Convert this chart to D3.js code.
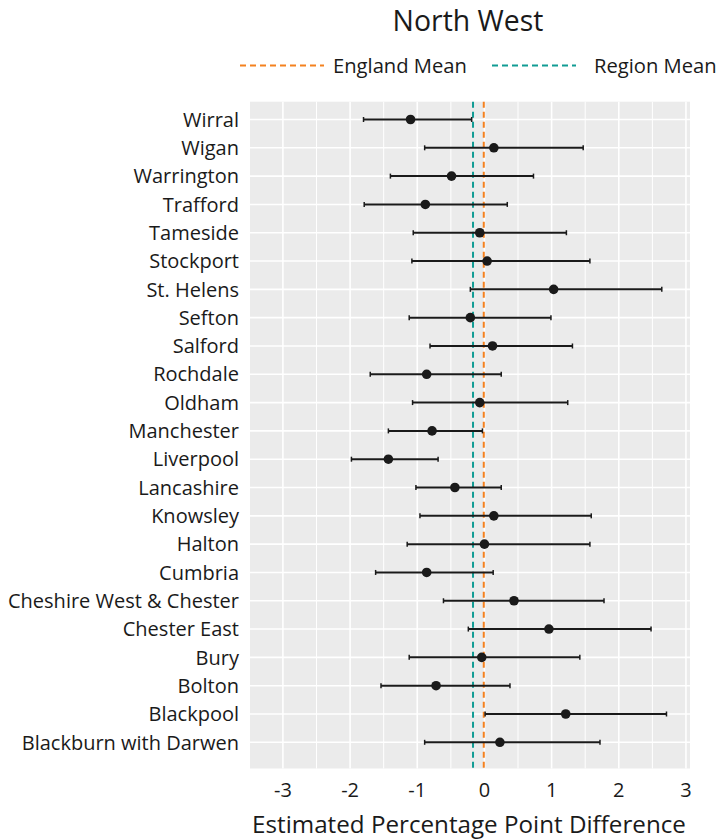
<!DOCTYPE html>
<html>
<head>
<meta charset="utf-8">
<script src="https://cdn.jsdelivr.net/npm/d3@7"></script>
<style>
  body { margin: 0; background: #fff; }
  text { font-family: "Open Sans", sans-serif; fill: #1a1a1a; }
</style>
</head>
<body>
<svg id="chart"></svg>
<script>
// local authorities, top to bottom
let areas = ['Wirral', 'Wigan', 'Warrington', 'Trafford', 'Tameside', 'Stockport',
  'St. Helens', 'Sefton', 'Salford', 'Rochdale', 'Oldham', 'Manchester', 'Liverpool',
  'Lancashire', 'Knowsley', 'Halton', 'Cumbria', 'Cheshire West & Chester',
  'Chester East', 'Bury', 'Bolton', 'Blackpool', 'Blackburn with Darwen']

let estimate = [-1.10, 0.14, -0.49, -0.88, -0.07, 0.04, 1.03, -0.21, 0.12, -0.86, -0.07,
  -0.78, -1.43, -0.44, 0.14, 0.00, -0.86, 0.44, 0.96, -0.04, -0.72, 1.21, 0.23]
let lower = [-1.80, -0.89, -1.40, -1.79, -1.06, -1.08, -0.21, -1.12, -0.81, -1.70, -1.07,
  -1.43, -1.98, -1.02, -0.96, -1.15, -1.62, -0.61, -0.24, -1.12, -1.54, 0.01, -0.89]
let upper = [-0.19, 1.47, 0.73, 0.34, 1.22, 1.57, 2.64, 0.99, 1.31, 0.25, 1.24,
  -0.03, -0.69, 0.25, 1.59, 1.57, 0.13, 1.78, 2.48, 1.42, 0.38, 2.71, 1.72]

let meanNames = ['England Mean', 'Region Mean']
let meanValues = [-0.01, -0.17]
let meanColors = ['#f4811f', '#119c94']

let xTicks = [-3, -2, -1, 0, 1, 2, 3]
let xMinor = [-2.5, -1.5, -0.5, 0.5, 1.5, 2.5]

let width = 716, height = 840
let panel = { left: 250, right: 690, top: 101.7, bottom: 768.5 }

const svg = d3.select('#chart')
    .attr('width', width)
    .attr('height', height)

let x = d3.scaleLinear().domain([-3.49, 3.06]).range([panel.left, panel.right])
let y = d3.scalePoint().domain(areas).range([119.5, 742.3])

// panel background
svg.append('rect')
    .attr('x', panel.left).attr('y', panel.top)
    .attr('width', panel.right - panel.left)
    .attr('height', panel.bottom - panel.top)
    .attr('fill', '#ebebeb')

let grid = svg.append('g')
grid.selectAll('.minor').data(xMinor).join('line')
    .attr('x1', d => x(d)).attr('x2', d => x(d))
    .attr('y1', panel.top).attr('y2', panel.bottom)
    .attr('stroke', '#fff').attr('stroke-width', 1)
grid.selectAll('.majx').data(xTicks).join('line')
    .attr('x1', d => x(d)).attr('x2', d => x(d))
    .attr('y1', panel.top).attr('y2', panel.bottom)
    .attr('stroke', '#fff').attr('stroke-width', 1.6)
grid.selectAll('.majy').data(areas).join('line')
    .attr('x1', panel.left).attr('x2', panel.right)
    .attr('y1', d => y(d)).attr('y2', d => y(d))
    .attr('stroke', '#fff').attr('stroke-width', 1.6)

// mean lines
svg.selectAll('.mean').data(meanValues).join('line')
    .attr('x1', d => x(d)).attr('x2', d => x(d))
    .attr('y1', panel.top).attr('y2', panel.bottom)
    .attr('stroke', (d, i) => meanColors[i])
    .attr('stroke-width', 2)
    .attr('stroke-dasharray', '6,4')

// error bars
let bars = svg.append('g').selectAll('g').data(areas).join('g')
    .attr('transform', d => `translate(0,${y(d)})`)
bars.append('line')
    .attr('x1', (d, i) => x(lower[i])).attr('x2', (d, i) => x(upper[i]))
    .attr('stroke', '#1a1a1a').attr('stroke-width', 2)
bars.append('line')
    .attr('x1', (d, i) => x(lower[i])).attr('x2', (d, i) => x(lower[i]))
    .attr('y1', -2.5).attr('y2', 2.5)
    .attr('stroke', '#1a1a1a').attr('stroke-width', 1.5)
bars.append('line')
    .attr('x1', (d, i) => x(upper[i])).attr('x2', (d, i) => x(upper[i]))
    .attr('y1', -2.5).attr('y2', 2.5)
    .attr('stroke', '#1a1a1a').attr('stroke-width', 1.5)
bars.append('circle')
    .attr('cx', (d, i) => x(estimate[i]))
    .attr('r', 4.8)
    .attr('fill', '#1a1a1a')

// y labels
svg.append('g').selectAll('text').data(areas).join('text')
    .attr('x', 239)
    .attr('y', d => y(d))
    .attr('dy', '0.36em')
    .attr('text-anchor', 'end')
    .style('font-size', '20px')
    .text(d => d)

// x axis labels
svg.append('g').selectAll('text').data(xTicks).join('text')
    .attr('x', d => x(d))
    .attr('y', 790)
    .attr('dy', '0.36em')
    .attr('text-anchor', 'middle')
    .style('font-size', '20px')
    .text(d => d)

svg.append('text')
    .attr('x', 469)
    .attr('y', 833)
    .attr('text-anchor', 'middle')
    .style('font-size', '24.2px')
    .text('Estimated Percentage Point Difference')

// title
svg.append('text')
    .attr('x', 468)
    .attr('y', 31)
    .attr('text-anchor', 'middle')
    .style('font-size', '28.4px')
    .text('North West')

// legend
let legendX = [240, 492]
let legend = svg.append('g').selectAll('g').data(meanNames).join('g')
    .attr('transform', (d, i) => `translate(${legendX[i]},65.5)`)
legend.append('line')
    .attr('x1', 0).attr('x2', 84)
    .attr('stroke', (d, i) => meanColors[i])
    .attr('stroke-width', 2)
    .attr('stroke-dasharray', '6,4')
legend.append('text')
    .attr('x', (d, i) => i == 0 ? 93 : 102)
    .attr('dy', '0.36em')
    .style('font-size', '20.2px')
    .text(d => d)
</script>
</body>
</html>
